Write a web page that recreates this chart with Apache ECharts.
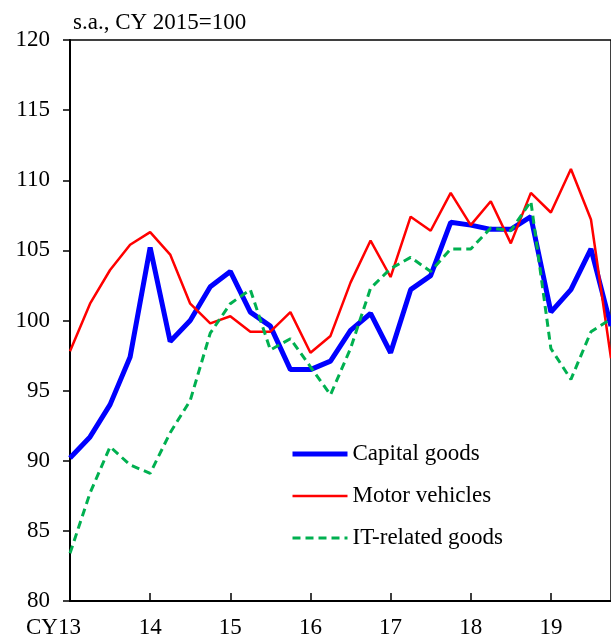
<!DOCTYPE html>
<html>
<head>
<meta charset="utf-8">
<script src="https://cdn.jsdelivr.net/npm/echarts@6/dist/echarts.min.js"></script>
<style>
  html, body { margin: 0; padding: 0; background: #fff; }
  #chart { width: 611px; height: 640px; }
</style>
</head>
<body>
<div id="chart"></div>
<script>
// quarterly, 2013Q1 .. 2019Q4
const years = ['13', '14', '15', '16', '17', '18', '19']
const quarters = years.flatMap(y => ['Q1', 'Q2', 'Q3', 'Q4'].map(q => y + q))
const tickLabels = ['CY13', '14', '15', '16', '17', '18', '19']

const capitalGoods = [
  90.2, 91.7, 94.0, 97.4, 105.2, 98.5, 100.0, 102.4,
  103.5, 100.6, 99.6, 96.5, 96.5, 97.1, 99.3, 100.5,
  97.7, 102.2, 103.2, 107.0, 106.8, 106.5, 106.5, 107.4,
  100.6, 102.2, 105.1, 99.6
]
const motorVehicles = [
  97.8, 101.2, 103.6, 105.4, 106.3, 104.7, 101.2, 99.8,
  100.3, 99.2, 99.2, 100.6, 97.7, 98.9, 102.7, 105.7,
  103.1, 107.4, 106.4, 109.1, 106.8, 108.5, 105.5, 109.1,
  107.7, 110.8, 107.2, 97.3
]
const itGoods = [
  83.4, 87.7, 91.0, 89.7, 89.1, 92.0, 94.3, 99.1,
  101.2, 102.2, 97.9, 98.7, 96.7, 94.7, 98.0, 102.3,
  103.7, 104.5, 103.5, 105.1, 105.1, 106.6, 106.4, 108.5,
  98.0, 95.8, 99.2, 100.1
]

const font = "'Liberation Serif', 'Times New Roman', serif"

const chart = echarts.init(document.getElementById('chart'))
chart.setOption({
  animation: false,
  title: {
    text: 's.a., CY 2015=100',
    left: 68,
    top: 6,
    textStyle: { fontFamily: font, fontSize: 23, fontWeight: 'normal', color: '#000' },
  },
  grid: {
    left: 70,
    top: 40,
    bottom: 39,
    width: 543,
    show: true,
    borderColor: '#000',
    borderWidth: 1.5,
  },
  legend: {
    orient: 'vertical',
    left: 285,
    top: 437,
    itemWidth: 55,
    itemHeight: 14,
    itemGap: 18,
    itemStyle: { opacity: 0 },
    textStyle: { fontFamily: font, fontSize: 23, color: '#000', lineHeight: 24 },
    data: [
      { name: 'Capital goods', lineStyle: { width: 5 } },
      { name: 'Motor vehicles', lineStyle: { width: 2.5 } },
      { name: 'IT-related goods', lineStyle: { width: 3, type: [8, 5] } },
    ],
  },
  xAxis: {
    type: 'category',
    data: quarters,
    boundaryGap: false,
    axisLine: { lineStyle: { color: '#000', width: 2 } },
    axisTick: { inside: true, length: 8, interval: 3, lineStyle: { color: '#000', width: 1.5 } },
    axisLabel: {
      interval: 3,
      margin: 15,
      fontFamily: font,
      fontSize: 23,
      color: '#000',
      formatter: (v, i) => {
        const t = tickLabels[i / 4]
        return i === 0 ? '{first|' + t + '}' : t
      },
      rich: {
        first: { fontFamily: font, fontSize: 23, color: '#000', padding: [0, 33, 0, 0] },
      },
    },
    splitLine: { show: false },
  },
  yAxis: {
    type: 'value',
    min: 80,
    max: 120,
    interval: 5,
    axisLine: { show: true, lineStyle: { color: '#000', width: 2 } },
    axisTick: { show: true, length: 7, lineStyle: { color: '#000', width: 1.5 } },
    axisLabel: { margin: 20, fontFamily: font, fontSize: 23, color: '#000' },
    splitLine: { show: false },
  },
  series: [
    {
      name: 'Capital goods',
      type: 'line',
      data: capitalGoods,
      symbol: 'none',
      lineStyle: { color: '#0000ff', width: 5 },
      itemStyle: { color: '#0000ff' },
    },
    {
      name: 'Motor vehicles',
      type: 'line',
      data: motorVehicles,
      symbol: 'none',
      lineStyle: { color: '#ff0000', width: 2.5 },
      itemStyle: { color: '#ff0000' },
    },
    {
      name: 'IT-related goods',
      type: 'line',
      data: itGoods,
      symbol: 'none',
      lineStyle: { color: '#00b050', width: 3, type: [8, 5] },
      itemStyle: { color: '#00b050' },
    },
  ],
})
</script>
</body>
</html>
